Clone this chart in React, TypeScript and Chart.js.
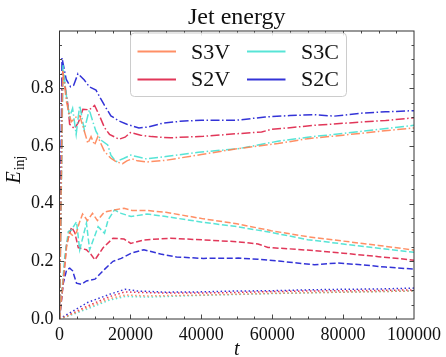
import React, { useEffect, useRef } from "react";
import { Chart, registerables } from "chart.js";

Chart.register(...registerables);

type P = [number, number][];

// ---- data (t, E_inj) ----
const SERIES_NAMES = ["S3V", "S3C", "S2V", "S2C"];
const SERIES_COLORS = [
  "rgba(255,127,80,0.88)",
  "rgba(64,224,208,0.88)",
  "rgba(220,20,60,0.85)",
  "rgba(0,0,205,0.8)",
];
const X_TICKS = [0, 20000, 40000, 60000, 80000, 100000];
const Y_TICKS = [0.0, 0.2, 0.4, 0.6, 0.8];

// upper (dash-dot)
const S3V_UPPER: P = [[0,0],[900,0.86],[2000,0.75],[3300,0.683],[4700,0.70],[5700,0.704],[6800,0.66],[8000,0.609],[8900,0.632],[9900,0.603],[10800,0.632],[12700,0.58],[14500,0.557],[16000,0.545],[17800,0.538],[19000,0.548],[20500,0.555],[22000,0.548],[24700,0.544],[30000,0.55],[40000,0.57],[50000,0.59],[61600,0.608],[70000,0.625],[80000,0.637],[90000,0.65],[100000,0.662]];
const S3C_UPPER: P = [[0,0],[1000,0.88],[1900,0.777],[2850,0.70],[3700,0.73],[4700,0.64],[5700,0.74],[7000,0.655],[8400,0.725],[9400,0.684],[10300,0.65],[11700,0.62],[13600,0.603],[14500,0.568],[15900,0.545],[18200,0.557],[20100,0.568],[22000,0.562],[24400,0.555],[30000,0.563],[39200,0.578],[50400,0.59],[61600,0.616],[70000,0.63],[80000,0.643],[90000,0.657],[100000,0.671]];
const S2V_UPPER: P = [[0,0],[900,0.86],[1800,0.79],[2400,0.74],[2850,0.675],[4200,0.66],[5300,0.68],[6600,0.727],[8400,0.725],[9900,0.74],[11300,0.704],[12700,0.663],[14100,0.64],[16800,0.623],[18500,0.63],[20000,0.646],[22900,0.637],[26000,0.632],[31300,0.628],[40600,0.633],[50000,0.642],[57000,0.648],[59700,0.657],[65000,0.663],[71900,0.671],[80000,0.678],[85900,0.683],[92000,0.688],[100000,0.697]];
const S2C_UPPER: P = [[0,0],[700,0.905],[1900,0.83],[3100,0.805],[4000,0.81],[5200,0.85],[7000,0.828],[8400,0.805],[10300,0.793],[12700,0.74],[14500,0.704],[16800,0.686],[19000,0.675],[22400,0.662],[25000,0.665],[28900,0.678],[34000,0.685],[40000,0.689],[50000,0.689],[58000,0.70],[65000,0.705],[71900,0.708],[77500,0.703],[85900,0.714],[92000,0.718],[100000,0.722]];

// middle (dashed)
const S3V_MIDDLE: P = [[0,0],[1000,0.13],[2000,0.25],[2800,0.30],[3800,0.288],[4800,0.30],[5500,0.33],[6500,0.364],[7900,0.341],[9300,0.366],[10700,0.341],[12600,0.37],[15400,0.378],[18200,0.384],[20500,0.376],[24700,0.376],[30000,0.37],[40600,0.347],[50000,0.33],[59700,0.306],[70000,0.285],[80000,0.27],[90000,0.255],[100000,0.239]];
const S3C_MIDDLE: P = [[0,0],[500,0.07],[1500,0.216],[2500,0.303],[3400,0.309],[4800,0.337],[5700,0.24],[7600,0.332],[8500,0.24],[10900,0.32],[12700,0.297],[13700,0.343],[15500,0.378],[17400,0.366],[20200,0.355],[24700,0.364],[30000,0.355],[40600,0.335],[50000,0.32],[59700,0.30],[70000,0.275],[80000,0.26],[90000,0.245],[100000,0.231]];
const S2V_MIDDLE: P = [[0,0],[1000,0.12],[2000,0.26],[3400,0.318],[4300,0.30],[5300,0.247],[7600,0.24],[8800,0.225],[10000,0.205],[12300,0.247],[15100,0.28],[18200,0.277],[20100,0.262],[23800,0.274],[31300,0.28],[40600,0.274],[50000,0.268],[56000,0.26],[58800,0.248],[65000,0.243],[71900,0.237],[80000,0.228],[90000,0.216],[100000,0.204]];
const S2C_MIDDLE: P = [[0,0],[1000,0.12],[2000,0.17],[2900,0.176],[3700,0.167],[4800,0.124],[6100,0.12],[7600,0.132],[10000,0.138],[12700,0.172],[15100,0.20],[17400,0.21],[20200,0.228],[23800,0.24],[28500,0.225],[33000,0.215],[40600,0.21],[50400,0.211],[56000,0.207],[62500,0.20],[67000,0.194],[71900,0.188],[78400,0.194],[85000,0.188],[92000,0.18],[100000,0.173]];

// lower (dotted)
const S3V_LOWER: P = [[0,0],[2000,0.009],[7900,0.04],[14000,0.07],[18500,0.083],[25000,0.08],[40000,0.083],[60000,0.089],[80000,0.093],[100000,0.097]];
const S3C_LOWER: P = [[0,0],[2000,0.008],[7900,0.035],[14000,0.065],[18500,0.078],[25000,0.076],[40000,0.082],[60000,0.088],[80000,0.093],[100000,0.097]];
const S2V_LOWER: P = [[0,0],[2000,0.01],[7900,0.045],[14000,0.077],[18500,0.094],[22000,0.092],[30000,0.09],[40000,0.09],[50000,0.092],[60000,0.095],[70000,0.097],[80000,0.098],[90000,0.099],[100000,0.101]];
const S2C_LOWER: P = [[0,0],[2000,0.015],[7900,0.057],[14000,0.085],[18500,0.103],[22000,0.097],[30000,0.093],[40000,0.094],[50000,0.097],[60000,0.098],[70000,0.101],[80000,0.103],[90000,0.104],[100000,0.107]];

const UPPER = [S3V_UPPER, S3C_UPPER, S2V_UPPER, S2C_UPPER];
const MIDDLE = [S3V_MIDDLE, S3C_MIDDLE, S2V_MIDDLE, S2C_MIDDLE];
const LOWER = [S3V_LOWER, S3C_LOWER, S2V_LOWER, S2C_LOWER];

const SERIF = "'Liberation Serif', 'DejaVu Serif', serif";
const DASH_DOT = [9, 2.5, 1.5, 2.5];
const DASHED = [6, 2.6];
const DOTTED = [1.5, 2.5];

const decorPlugin = {
  id: "decor",
  afterDraw(chart: any) {
    const { ctx, chartArea: a, scales } = chart;
    const xs = scales.x;
    const ys = scales.y;
    ctx.save();
    // frame
    ctx.strokeStyle = "#333";
    ctx.lineWidth = 1;
    ctx.strokeRect(a.left, a.top, a.right - a.left, a.bottom - a.top);
    // inward ticks on all sides
    ctx.lineWidth = 0.9;
    const seg = (x1: number, y1: number, x2: number, y2: number) => {
      ctx.beginPath();
      ctx.moveTo(x1, y1);
      ctx.lineTo(x2, y2);
      ctx.stroke();
    };
    for (let i = 1; i < 20; i++) {
      const v = i * 5000;
      const px = Math.round(xs.getPixelForValue(v)) + 0.5;
      const len = i % 4 === 0 ? 4.5 : 2.5;
      seg(px, a.bottom, px, a.bottom - len);
      seg(px, a.top, px, a.top + len);
    }
    for (let i = 1; i < 20; i++) {
      const v = i * 0.05;
      const py = Math.round(ys.getPixelForValue(v)) + 0.5;
      if (py < a.top + 1) continue;
      const len = i % 4 === 0 ? 4.5 : 2.5;
      seg(a.left, py, a.left + len, py);
      seg(a.right, py, a.right - len, py);
    }
    // title
    const cx = (a.left + a.right) / 2;
    ctx.fillStyle = "#111";
    ctx.font = `24px ${SERIF}`;
    ctx.textAlign = "center";
    ctx.textBaseline = "alphabetic";
    ctx.fillText("Jet energy", cx, 23.5);
    // x title
    ctx.font = `italic 20px ${SERIF}`;
    ctx.fillText("t", cx, 355);
    // y title
    ctx.save();
    ctx.translate(20, 170);
    ctx.rotate(-Math.PI / 2);
    ctx.textAlign = "left";
    ctx.font = `italic 20px ${SERIF}`;
    const wE = ctx.measureText("E").width;
    ctx.font = `14px ${SERIF}`;
    const wS = ctx.measureText("inj").width;
    const start = -(wE + wS) / 2;
    ctx.font = `italic 20px ${SERIF}`;
    ctx.fillText("E", start, 0);
    ctx.font = `14px ${SERIF}`;
    ctx.fillText("inj", start + wE + 1, 4);
    ctx.restore();
    // legend
    const bx = 130.5, by = 33, bw = 216, bh = 63.5;
    ctx.beginPath();
    ctx.roundRect(bx, by, bw, bh, 4);
    ctx.fillStyle = "rgba(255,255,255,0.85)";
    ctx.fill();
    ctx.strokeStyle = "#cccccc";
    ctx.lineWidth = 1;
    ctx.stroke();
    const cols = [[137.5, 191], [247, 301]];
    const rows = [[51.5, 58.5], [79.5, 86]];
    SERIES_NAMES.forEach((name, i) => {
      const c = cols[i % 2];
      const r = rows[Math.floor(i / 2)];
      ctx.strokeStyle = SERIES_COLORS[i];
      ctx.lineWidth = 2;
      seg(c[0], r[0], c[0] + 38.5, r[0]);
      ctx.fillStyle = "#111";
      ctx.font = `22px ${SERIF}`;
      ctx.textAlign = "left";
      ctx.fillText(name, c[1], r[1]);
    });
    ctx.restore();
  },
};

function buildDatasets() {
  const ds: any[] = [];
  SERIES_NAMES.forEach((name, i) => {
    const groups: [P, number[], string][] = [
      [UPPER[i], DASH_DOT, "upper"],
      [MIDDLE[i], DASHED, "middle"],
      [LOWER[i], DOTTED, "lower"],
    ];
    groups.forEach(([pts, dash, g]) => {
      ds.push({
        label: `${name} ${g}`,
        data: pts.map(([x, y]) => ({ x, y })),
        borderColor: SERIES_COLORS[i],
        borderWidth: 1.5,
        borderDash: dash,
        pointRadius: 0,
        tension: 0,
        fill: false,
      });
    });
  });
  return ds;
}

export default function App() {
  const ref = useRef<HTMLCanvasElement | null>(null);
  useEffect(() => {
    if (!ref.current) return;
    const chart = new Chart(ref.current, {
      type: "line",
      data: { datasets: buildDatasets() },
      options: {
        responsive: false,
        animation: false,
        devicePixelRatio: 1,
        layout: { padding: { left: 0, right: 29.5, top: 31, bottom: 0 } },
        plugins: {
          legend: { display: false },
          title: { display: false },
          tooltip: { enabled: false },
        },
        scales: {
          x: {
            type: "linear",
            min: 0,
            max: 100000,
            grid: { display: false, drawTicks: false, tickLength: 0 },
            border: { display: false },
            afterFit: (s: any) => { s.height = 38; },
            afterBuildTicks: (s: any) => { s.ticks = X_TICKS.map((v) => ({ value: v })); },
            ticks: {
              padding: 5,
              color: "#111",
              font: { family: SERIF, size: 18 },
              maxRotation: 0,
              callback: (v: any) => String(v),
            },
          },
          y: {
            type: "linear",
            min: 0,
            max: 0.998,
            grid: { display: false, drawTicks: false, tickLength: 0 },
            border: { display: false },
            afterFit: (s: any) => { s.width = 59.5; },
            afterBuildTicks: (s: any) => { s.ticks = Y_TICKS.map((v) => ({ value: v })); },
            ticks: {
              padding: 6,
              color: "#111",
              font: { family: SERIF, size: 18 },
              callback: (v: any) => Number(v).toFixed(1),
            },
          },
        },
      },
      plugins: [decorPlugin],
    });
    return () => chart.destroy();
  }, []);
  return (
    <div style={{ position: "fixed", left: 0, top: 0, width: 446, height: 357, background: "#fff" }}>
      <canvas ref={ref} width={446} height={357} style={{ width: 446, height: 357, display: "block" }} />
    </div>
  );
}
